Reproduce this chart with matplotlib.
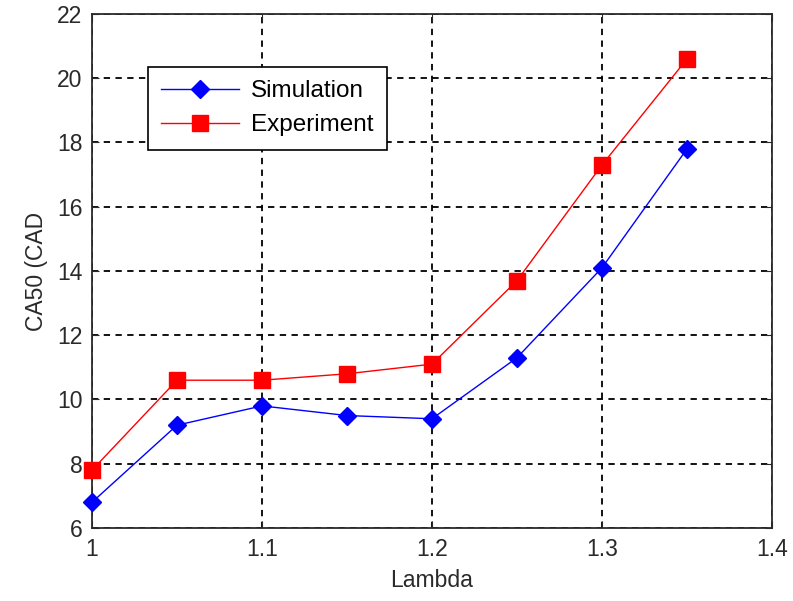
import matplotlib
matplotlib.use('Agg')
import matplotlib.pyplot as plt

plt.rcParams['font.family'] = ['Liberation Sans', 'DejaVu Sans']

lam = [1.0, 1.05, 1.1, 1.15, 1.2, 1.25, 1.3, 1.35]
sim = [6.8, 9.2, 9.8, 9.5, 9.4, 11.3, 14.1, 17.8]
exp_ = [7.8, 10.6, 10.6, 10.8, 11.1, 13.7, 17.3, 20.6]
xticks = [1, 1.1, 1.2, 1.3, 1.4]
xlabels = ['1', '1.1', '1.2', '1.3', '1.4']
yticks = list(range(6, 23, 2))

txt = '#2a2a2a'
fs = 16.5

fig = plt.figure(figsize=(7.93, 6.01), dpi=100)
ax = fig.add_axes([0.116, 0.1215, 0.8575, 0.8552])

ax.plot(lam, sim, color='blue', lw=1, marker='D', ms=9.5, mfc='blue', mec='blue',
        label='Simulation', clip_on=False, zorder=3)
ax.plot(lam, exp_, color='red', lw=1, marker='s', ms=11, mfc='red', mec='red',
        label='Experiment', clip_on=False, zorder=3)

ax.set_xlim(1, 1.4)
ax.set_ylim(6, 22)
ax.set_xticks(xticks)
ax.set_xticklabels(xlabels)
ax.set_yticks(yticks)
ax.tick_params(direction='in', top=True, right=True, labelsize=fs, length=5,
               colors=txt, pad=7)
ax.grid(True, color='black', linestyle=(0, (3.5, 3)), linewidth=1.3)
for s in ax.spines.values():
    s.set_linewidth(1.3)
    s.set_color(txt)

ax.set_xlabel('Lambda', fontsize=fs, color=txt, labelpad=6)
ax.set_ylabel('CA50 (CAD', fontsize=fs, color=txt, labelpad=6)

leg = ax.legend(loc='upper left', bbox_to_anchor=(0.082, 0.897), fontsize=17.5,
                frameon=True, fancybox=False, edgecolor='black', framealpha=1,
                handlelength=3.2, borderpad=0.55, labelspacing=0.5,
                handletextpad=0.5, borderaxespad=0)
leg.get_frame().set_linewidth(1.2)

fig.savefig('out.png', dpi=100)
